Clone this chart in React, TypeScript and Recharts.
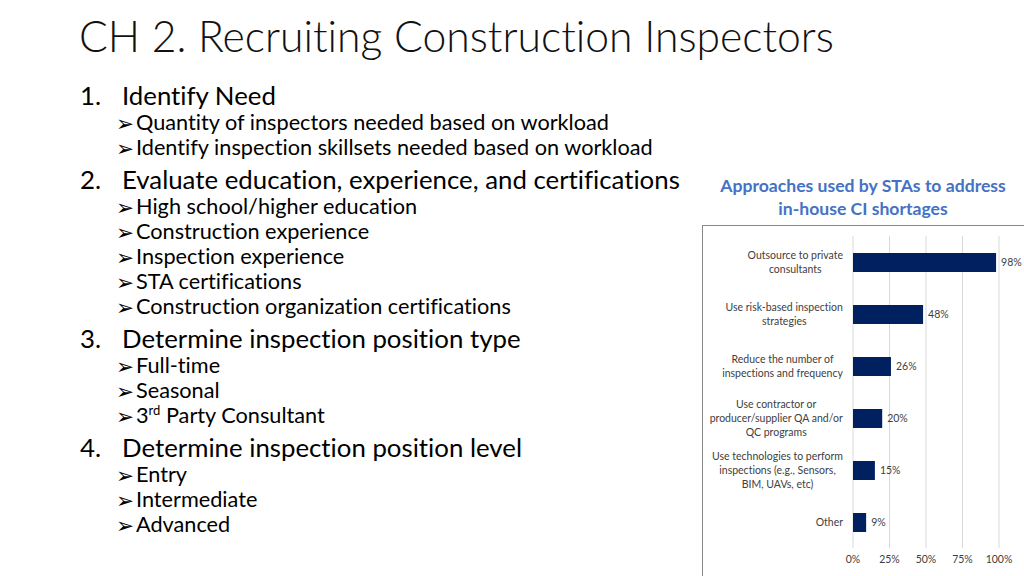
import React from "react";
import { BarChart, Bar, XAxis, YAxis, CartesianGrid, LabelList } from "recharts";

const categories = [
  "Outsource to private\nconsultants",
  "Use risk-based inspection\nstrategies",
  "Reduce the number of\ninspections and frequency",
  "Use contractor or\nproducer/supplier QA and/or\nQC programs",
  "Use technologies to perform\ninspections (e.g., Sensors,\nBIM, UAVs, etc)",
  "Other",
];
const values = [98, 48, 26, 20, 15, 9];
const xTicks = [0, 25, 50, 75, 100];

const chartTitle = ["Approaches used by STAs to address", "in-house CI shortages"];
const slideTitle = "CH 2. Recruiting Construction Inspectors";

const data = categories.map((c, i) => ({ name: c, value: values[i] }));

const FONT = "Lato, 'Open Sans', sans-serif";
const TICK_FONT_SIZE = 10.5;
const TICK_COLOR = "#404040";
const NOLIG: React.CSSProperties = { fontVariantLigatures: "none", fontFeatureSettings: '"liga" 0, "clig" 0' };

let ctx: CanvasRenderingContext2D | null = null;
function measure(text: string, font: string) {
  if (!ctx) {
    const c = document.createElement("canvas");
    ctx = c.getContext("2d");
  }
  if (!ctx) return text.length * 5;
  ctx.font = font;
  return ctx.measureText(text).width;
}

const CategoryTick = (props: any) => {
  const { x, y, payload } = props;
  const lines: string[] = String(payload.value).split("\n");
  const font = `${TICK_FONT_SIZE}px Lato`;
  const blockW = Math.max(...lines.map((l) => measure(l, font)));
  const right = x - 2;
  const cx = right - blockW / 2;
  const lh = 14;
  const start = -((lines.length - 1) / 2) * lh;
  return (
    <g>
      {lines.map((l, i) => (
        <text
          key={i}
          x={cx}
          y={y + start + i * lh}
          textAnchor="middle"
          dominantBaseline="central"
          fontSize={TICK_FONT_SIZE}
          fontFamily={FONT}
          fill={TICK_COLOR}
          style={NOLIG}
        >
          {l}
        </text>
      ))}
    </g>
  );
};

type Item = { level: 1 | 2; num?: string; text: React.ReactNode; y: number };

const bullets: Item[] = [
  { level: 1, num: "1.", text: "Identify Need", y: 96 },
  { level: 2, text: "Quantity of inspectors needed based on workload", y: 123 },
  { level: 2, text: "Identify inspection skillsets needed based on workload", y: 148 },
  { level: 1, num: "2.", text: "Evaluate education, experience, and certifications", y: 180 },
  { level: 2, text: "High school/higher education", y: 207 },
  { level: 2, text: "Construction experience", y: 232 },
  { level: 2, text: "Inspection experience", y: 257 },
  { level: 2, text: "STA certifications", y: 282 },
  { level: 2, text: "Construction organization certifications", y: 307 },
  { level: 1, num: "3.", text: "Determine inspection position type", y: 339 },
  { level: 2, text: "Full-time", y: 366 },
  { level: 2, text: "Seasonal", y: 391 },
  {
    level: 2,
    text: (
      <span>
        3<sup style={{ fontSize: "0.6em", verticalAlign: "0.6em", lineHeight: 0 }}>rd</sup> Party Consultant
      </span>
    ),
    y: 416,
  },
  { level: 1, num: "4.", text: "Determine inspection position level", y: 448 },
  { level: 2, text: "Entry", y: 475 },
  { level: 2, text: "Intermediate", y: 500 },
  { level: 2, text: "Advanced", y: 525 },
];

const L1 = 25.8;
const L2 = 21.7;

export default function App() {
  return (
    <div
      style={{
        position: "absolute",
        left: 0,
        top: 0,
        width: 1024,
        height: 576,
        background: "#fff",
        overflow: "hidden",
        fontFamily: FONT,
        color: "#000",
        ...NOLIG,
      }}
    >
      <div
        style={{
          position: "absolute",
          left: 79,
          top: 36,
          transform: "translateY(-50%)",
          fontSize: 42.7,
          fontWeight: 300,
          lineHeight: 1,
          whiteSpace: "nowrap",
          color: "#111",
        }}
      >
        {slideTitle}
      </div>

      {bullets.map((b, i) =>
        b.level === 1 ? (
          <React.Fragment key={i}>
            <div style={{ position: "absolute", left: 80, top: b.y, transform: "translateY(-50%)", fontSize: L1, lineHeight: 1, whiteSpace: "nowrap" }}>
              {b.num}
            </div>
            <div style={{ position: "absolute", left: 122, top: b.y, transform: "translateY(-50%)", fontSize: L1, lineHeight: 1, whiteSpace: "nowrap" }}>
              {b.text}
            </div>
          </React.Fragment>
        ) : (
          <React.Fragment key={i}>
            <div style={{ position: "absolute", left: 116, top: b.y + 1, transform: "translateY(-50%)", fontSize: 21.5, lineHeight: 1, fontFamily: "'DejaVu Sans'", whiteSpace: "nowrap" }}>
              ➢
            </div>
            <div style={{ position: "absolute", left: 136, top: b.y, transform: "translateY(-50%)", fontSize: L2, lineHeight: 1, whiteSpace: "nowrap" }}>
              {b.text}
            </div>
          </React.Fragment>
        )
      )}

      {chartTitle.map((t, i) => (
        <div
          key={i}
          style={{
            position: "absolute",
            left: 863,
            top: 186 + i * 23,
            transform: "translate(-50%, -50%)",
            fontSize: 17.6,
            fontWeight: 700,
            color: "#4472C4",
            lineHeight: 1,
            whiteSpace: "nowrap",
          }}
        >
          {t}
        </div>
      ))}

      <div
        style={{
          position: "absolute",
          left: 702,
          top: 225,
          width: 330,
          height: 350,
          borderLeft: "1px solid #8a8a8a",
          borderTop: "1px solid #8a8a8a",
          borderBottom: "1px solid #8a8a8a",
        }}
      />

      <div style={{ position: "absolute", left: 702, top: 225 }}>
        <BarChart
          width={322}
          height={351}
          data={data}
          layout="vertical"
          margin={{ top: 11, right: 25, bottom: 0, left: 0 }}
          barCategoryGap={0}
        >
          <CartesianGrid horizontal={false} stroke="#D9D9D9" />
          <XAxis
            type="number"
            domain={[0, 100]}
            ticks={xTicks}
            tickFormatter={(v: number) => `${v}%`}
            axisLine={false}
            tickLine={false}
            height={28}
            interval={0}
            tick={{ fontSize: TICK_FONT_SIZE, fill: TICK_COLOR, fontFamily: FONT }}
          />
          <YAxis
            type="category"
            dataKey="name"
            width={151}
            axisLine={false}
            tickLine={false}
            interval={0}
            tick={<CategoryTick />}
          />
          <Bar dataKey="value" fill="#002060" barSize={19} isAnimationActive={false}>
            <LabelList
              dataKey="value"
              position="right"
              offset={5}
              formatter={(v: any) => `${v}%`}
              style={{ fontSize: TICK_FONT_SIZE, fill: TICK_COLOR, fontFamily: FONT }}
            />
          </Bar>
        </BarChart>
      </div>
    </div>
  );
}
